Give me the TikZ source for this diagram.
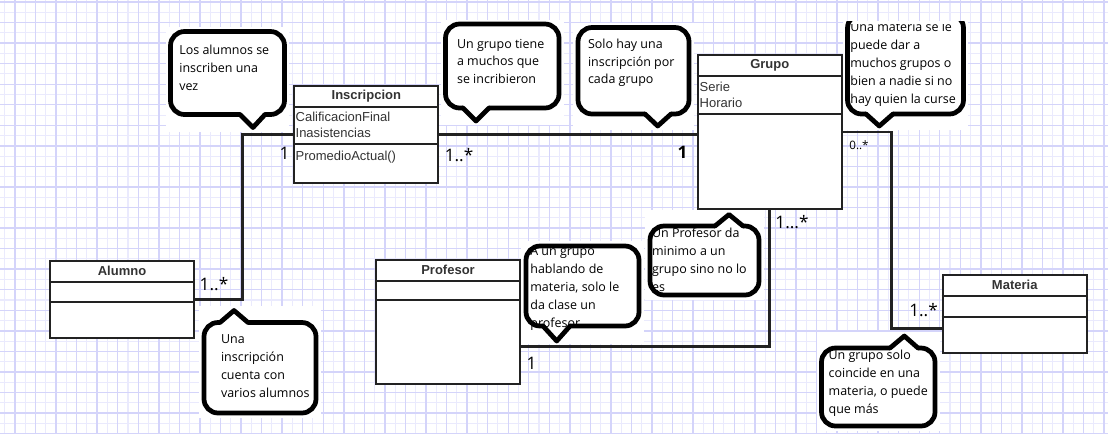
\documentclass[tikz,border=0pt]{standalone}
\usepackage{fontspec}
\newfontfamily\comic{Open Sans}
\newfontfamily\arial{Liberation Sans}
\usetikzlibrary{calc}

\definecolor{cuadro}{RGB}{212,212,250}
\definecolor{cuadrito}{RGB}{234,234,253}
\definecolor{linea}{RGB}{34,34,34}
\definecolor{texto}{RGB}{51,51,51}

\tikzset{
  clase/.style={draw=linea, fill=white, line width=1.2pt, anchor=north west, minimum width=2.88cm, inner sep=0pt},
  sep/.style={draw=linea, line width=1.2pt},
  titulo/.style={font=\arial\bfseries\fontsize{7.4}{9}\selectfont, text=texto, inner sep=0pt},
  atrib/.style={font=\arial\fontsize{7.4}{9.2}\selectfont, text=texto, inner sep=0pt, anchor=north west, align=left},
  conector/.style={draw=linea, line width=1.5pt},
  nota/.style={draw=black, fill=white, line width=2.7pt, rounded corners=8pt},
  pico/.style={draw=black, line width=2.7pt, line join=round, line cap=round},
  notatexto/.style={font=\comic\fontsize{7.1}{10.2}\selectfont, inner sep=0pt, anchor=north west, align=left},
  mult/.style={font=\comic\fontsize{9.8}{11}\selectfont, inner sep=0pt},
}

\begin{document}
\begin{tikzpicture}[x=0.02cm, y=-0.02cm]
    \useasboundingbox (0,0) rectangle (1108,434);
    % cuadricula
    \foreach \i in {0,...,53}
        \draw[cuadrito, line width=0.6pt] ({4.7+20.55*\i},0) -- ({4.7+20.55*\i},434);
    \foreach \j in {0,...,20}
        \draw[cuadrito, line width=0.6pt] (0,{12.3+20.55*\j}) -- (1108,{12.3+20.55*\j});
    \foreach \i in {0,...,53}
        \draw[cuadro, line width=0.8pt] ({15+20.55*\i},0) -- ({15+20.55*\i},434);
    \foreach \j in {0,...,21}
        \draw[cuadro, line width=0.8pt] (0,{2+20.55*\j}) -- (1108,{2+20.55*\j});
    % fondos blancos de las notas
    \foreach \a/\b/\c/\d in {166/27/289/132, 441/20/564/125, 573/23/694/130, 843/21/968/130,
                             199/306/321/418, 521/241/644/344, 645/210/764/300, 817/332/940/431}
        \fill[white] (\a,\b) rectangle (\c,\d);

    % clases
    \node[clase, minimum height=1.546cm] (alumno) at (49,260) {};
    \draw[sep] (alumno.north west) ++(0,21.7) -- ++(144,0);
    \draw[sep] (alumno.north west) ++(0,41.7) -- ++(144,0);
    \node[titulo] (alumnoT) at ($(alumno.north)+(0,10.8)$) {Alumno};

    \node[clase, minimum height=1.934cm] (inscripcion) at (293.3,85) {};
    \draw[sep] (inscripcion.north west) ++(0,21.7) -- ++(144,0);
    \draw[sep] (inscripcion.north west) ++(0,59.3) -- ++(144,0);
    \node[titulo] (inscripcionT) at ($(inscripcion.north)+(0,10.8)$) {Inscripcion};
    \node[atrib] (inscripcionA) at ($(inscripcion.north west)+(2,26.7)$) {CalificacionFinal\\Inasistencias};
    \node[atrib] (inscripcionM) at ($(inscripcion.north west)+(2,65.5)$) {PromedioActual()};

    \node[clase, minimum height=3.068cm] (grupo) at (696.7,54.3) {};
    \draw[sep] (grupo.north west) ++(0,21.4) -- ++(144,0);
    \draw[sep] (grupo.north west) ++(0,59.4) -- ++(144,0);
    \node[titulo] (grupoT) at ($(grupo.north)+(0,10.7)$) {Grupo};
    \node[atrib] (grupoA) at ($(grupo.north west)+(2.6,27.4)$) {Serie\\Horario};

    \node[clase, minimum height=2.486cm] (profesor) at (375,259) {};
    \draw[sep] (profesor.north west) ++(0,21.7) -- ++(144,0);
    \draw[sep] (profesor.north west) ++(0,41) -- ++(144,0);
    \node[titulo] (profesorT) at ($(profesor.north)+(0,10.8)$) {Profesor};

    \node[clase, minimum height=1.554cm] (materia) at (941.7,274) {};
    \draw[sep] (materia.north west) ++(0,22) -- ++(144,0);
    \draw[sep] (materia.north west) ++(0,42.7) -- ++(144,0);
    \node[titulo] (materiaT) at ($(materia.north)+(0,11)$) {Materia};

    % asociaciones
    \draw[conector] (alumno.east) -| ($(inscripcion.west)+(-50.8,0)$) -- (inscripcion.west);
    \draw[conector] (inscripcion.east) -- (inscripcion.east -| grupo.west);
    \draw[conector] (grupo.east) -| ($(materia.west)+(-50.2,14.8)$) -- ($(materia.west)+(0,14.8)$);
    \draw[conector] (grupo.south) |- ($(profesor.east)+(0,24.5)$);

    \node[mult] (m1) at (284.5,153) {1};
    \node[mult] (m2) at (459,155.5) {1..*};
    \node[mult, font=\comic\bfseries\fontsize{9.8}{11}\selectfont] (m3) at (682.5,152.5) {1};
    \node[mult, font=\comic\fontsize{6.6}{8}\selectfont] (m4) at (859,145) {0..*};
    \node[mult] (m5) at (792,222.5) {1...*};
    \node[mult] (m6) at (531.5,363.3) {1};
    \node[mult] (m7) at (214,284) {1..*};
    \node[mult] (m8) at (923.5,310.5) {1..*};

    % notas
    \foreach \a/\b/\c/\d in {170.5/31.5/284.5/114.5, 445.5/24/559/108, 578/27.5/689/114,
                             204/322.5/316/413, 526/246/639/326, 650/226/759/295, 821.5/348/935/426}
        \draw[nota] (\a,\b) rectangle (\c,\d);
    \begin{scope}
        \clip (840,21) rectangle (975,135);
        \draw[nota] (847.5,14) rectangle (963.5,114);
    \end{scope}
    \foreach \a/\b/\y/\tx/\ty/\s in {240/265/114.5/253/127.5/-3.5, 463/489/108/476/121/-3.5,
                                      645/671/114/657.7/126/-3.5, 866/893/114/879.3/126/-3.5,
                                      220/248/322.5/234/310.5/3.5, 543/570/326/556.7/341/-3.5,
                                      715/743/226/729/214.5/3.5, 890/918/348/904.3/336/3.5} {
        \fill[white] (\a,\y+\s) -- (\a,\y) -- (\tx,\ty) -- (\b,\y) -- (\b,\y+\s) -- cycle;
        \draw[pico] (\a,\y) -- (\tx,\ty) -- (\b,\y);
    }

    \node[notatexto] (t1) at (179,45) {Los alumnos se\\inscriben una\\vez};
    \node[notatexto] (t2) at (456.7,38.5) {Un grupo tiene\\a muchos que\\se incribieron};
    \node[notatexto] (t3) at (587.7,38.3) {Solo hay una\\inscripción por\\cada grupo};
    \begin{scope}
        \clip (840,24.5) rectangle (975,135);
        \node[notatexto] (t4) at (850,21.7) {Una materia se le\\puede dar a\\muchos grupos o\\bien a nadie si no\\hay quien la curse};
    \end{scope}
    \node[notatexto] (t5) at (220.7,334) {Una\\inscripción\\cuenta con\\varios alumnos};
    \node[notatexto] (t6) at (530,246.4) {A un grupo\\hablando de\\materia, solo le\\da clase un\\profesor};
    \node[notatexto] (t7) at (651.7,227.4) {Un Profesor da\\minimo a un\\grupo sino no lo\\es};
    \node[notatexto] (t8) at (828.3,349.7) {Un grupo solo\\coincide en una\\materia, o puede\\que más};
\end{tikzpicture}
\end{document}
